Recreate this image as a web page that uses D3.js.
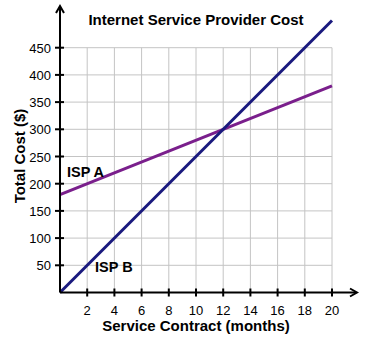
<!DOCTYPE html>
<html><head><meta charset="utf-8">
<script src="https://cdn.jsdelivr.net/npm/d3@7"></script>
<style>body{margin:0;background:#fff}svg{display:block}text{font-family:"Liberation Sans",Arial,sans-serif}</style>
</head><body>
<script>
const title = "Internet Service Provider Cost";
const xTicks = [2,4,6,8,10,12,14,16,18,20];
const yTicks = [50,100,150,200,250,300,350,400,450];
const months = [0, 20];
const ispA = [180, 380];
const ispB = [0, 500];
const seriesNames = ["ISP A", "ISP B"];

const W = 365, H = 340;
const svg = d3.select("body").append("svg").attr("width", W).attr("height", H);
const x = d3.scaleLinear().domain([0, 20]).range([60, 332]);
const y = d3.scaleLinear().domain([0, 450]).range([292.5, 47.7]);

// grid
const g = svg.append("g").attr("stroke", "#c4c4c4").attr("stroke-width", 1);
xTicks.forEach(t => g.append("line").attr("x1", x(t)).attr("x2", x(t)).attr("y1", y(0)).attr("y2", y(450)));
yTicks.forEach(t => g.append("line").attr("x1", x(0)).attr("x2", x(20)).attr("y1", y(t)).attr("y2", y(t)));

// lines
const line = d3.line().x(d => x(d[0])).y(d => y(d[1]));
svg.append("path").datum(months.map((m,i)=>[m, ispA[i]])).attr("d", line)
  .attr("fill","none").attr("stroke","#7a1f8c").attr("stroke-width",3);
svg.append("path").datum(months.map((m,i)=>[m, ispB[i]])).attr("d", line)
  .attr("fill","none").attr("stroke","#1a1a7e").attr("stroke-width",3);

// axes
const ax = svg.append("g").attr("stroke","#000").attr("stroke-width",2);
ax.append("line").attr("x1", x(0)).attr("x2", 356).attr("y1", y(0)).attr("y2", y(0));
ax.append("line").attr("x1", x(0)).attr("x2", x(0)).attr("y1", y(0)).attr("y2", 7);
// arrows
ax.append("path").attr("fill","none").attr("d", `M${x(0)-4},13 L${x(0)},6 L${x(0)+4},13`);
ax.append("path").attr("fill","none").attr("d", `M350,${y(0)-4} L357,${y(0)} L350,${y(0)+4}`);
xTicks.forEach(t => ax.append("line").attr("x1", x(t)).attr("x2", x(t)).attr("y1", y(0)-4).attr("y2", y(0)+4));
yTicks.forEach(t => ax.append("line").attr("x1", x(0)-5).attr("x2", x(0)+4).attr("y1", y(t)).attr("y2", y(t)));

// tick labels
svg.append("g").selectAll("text").data(xTicks).join("text")
  .attr("x", d => x(d)).attr("y", 315).attr("text-anchor","middle")
  .attr("font-size", 13).text(d => d);
svg.append("g").selectAll("text").data(yTicks).join("text")
  .attr("x", 51).attr("y", d => y(d) + 5).attr("text-anchor","end")
  .attr("font-size", 13).text(d => d);

// titles
svg.append("text").attr("x", 196).attr("y", 25).attr("text-anchor","middle")
  .attr("font-size", 15).attr("font-weight","bold").text(title);
svg.append("text").attr("x", 196).attr("y", 331).attr("text-anchor","middle")
  .attr("font-size", 15).attr("font-weight","bold").text("Service Contract (months)");
svg.append("text").attr("transform","translate(25,156) rotate(-90)").attr("text-anchor","middle")
  .attr("font-size", 15).attr("font-weight","bold").text("Total Cost ($)");

// series labels
svg.append("text").attr("x", 67).attr("y", 176.5).attr("font-size", 14.5).attr("font-weight","bold").text(seriesNames[0]);
svg.append("text").attr("x", 95).attr("y", 272).attr("font-size", 14.5).attr("font-weight","bold").text(seriesNames[1]);
</script>
</body></html>
